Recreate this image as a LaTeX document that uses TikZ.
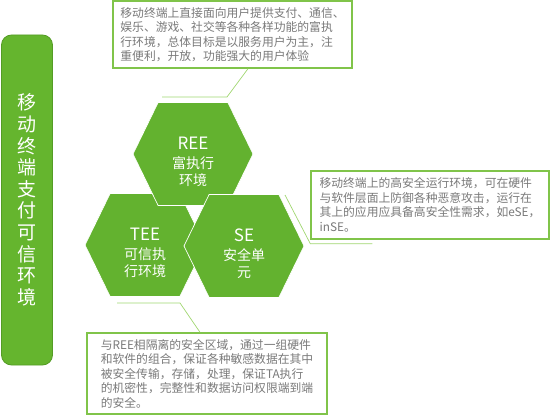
\documentclass[tikz,border=0pt]{standalone}
\usepackage{fontspec}
\newfontfamily\cjk{Noto Sans CJK SC}
\usetikzlibrary{shapes.symbols}
\definecolor{hexGreen}{RGB}{99,178,47}
\definecolor{barGreen}{RGB}{101,181,46}
\definecolor{barEdge}{RGB}{84,156,37}
\definecolor{boxGreen}{RGB}{128,196,74}
\definecolor{lineGreen}{RGB}{160,214,112}
\definecolor{noteGray}{RGB}{122,122,122}

\tikzset{
  hexnode/.style={signal, signal to=east and west, signal pointer angle=128,
    fill=hexGreen, draw=white, line width=0.7pt, minimum width=120pt,
    minimum height=103pt, inner sep=0pt, text=white, align=center,
    font=\cjk\fontsize{14}{16.5}\selectfont},
  notebox/.style={draw=boxGreen, line width=1.4pt, fill=white, text=noteGray,
    align=left, inner sep=0pt, font=\cjk\fontsize{11.8}{14.5}\selectfont},
  callline/.style={draw=lineGreen, line width=0.7pt},
}
% heading line of a hexagon, with room above it to push the text down
\newcommand{\hexhead}[1]{{\fontsize{17}{20}\selectfont\rule{0pt}{28pt}#1}\\[3pt]}

\begin{document}
\begin{tikzpicture}[x=1pt,y=-1pt]
  \useasboundingbox (0,0) rectangle (559,417);

  % title bar on the left
  \node[fill=barGreen, draw=barEdge, line width=0.8pt, rounded corners=10pt,
    minimum width=51pt, minimum height=330pt, text=white, align=center,
    font=\cjk\fontsize{19}{21.6}\selectfont] (titleBar) at (27,200)
    {移\\动\\终\\端\\支\\付\\可\\信\\环\\境};

  % the three environments
  \node[hexnode] (tee) at (145,245) {\hexhead{TEE}可信执\\行环境};
  \node[hexnode] (ree) at (193,154) {\hexhead{REE}富执行\\环境};
  \node[hexnode] (se) at (244,246) {\hexhead{SE}安全单\\元};

  % notes
  \node[notebox, minimum width=239pt, minimum height=67pt] (reeNote) at (232.5,34.5)
    {移动终端上直接面向用户提供支付、通信、\\娱乐、游戏、社交等各种各样功能的富执\\行环境，总体目标是以服务用户为主，注\\重便利，开放，功能强大的用户体验};
  \node[notebox, minimum width=238pt, minimum height=68pt] (seNote) at (430,205)
    {移动终端上的高安全运行环境，可在硬件\\与软件层面上防御各种恶意攻击，运行在\\其上的应用应具备高安全性需求，如eSE，\\inSE。};
  \node[notebox, minimum width=240pt, minimum height=81pt] (teeNote) at (207,373.5)
    {与REE相隔离的安全区域，通过一组硬件\\和软件的组合，保证各种敏感数据在其中\\被安全传输，存储，处理，保证TA执行\\的机密性，完整性和数据访问权限端到端\\的安全。};

  % leader lines
  \coordinate (reeMark) at (162,97);
  \coordinate (seMark) at (285,195);
  \coordinate (teeMark) at (117,303);
  \draw[callline] ([xshift=15.5pt]reeNote.south) -- (227,97) -- (reeMark);
  \draw[callline] (seMark) -- ([yshift=-4pt]seNote.south west) -- ++(62,0);
  \draw[callline] (teeMark) -- (180,303) -- ([xshift=-7pt]teeNote.north);
\end{tikzpicture}
\end{document}
